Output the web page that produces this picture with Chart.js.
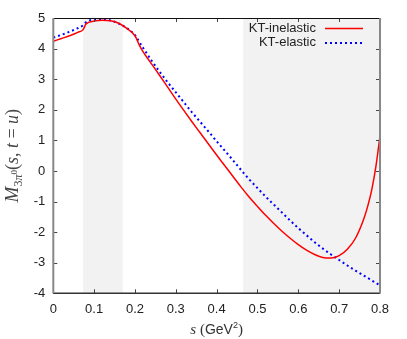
<!DOCTYPE html>
<html>
<head>
<meta charset="utf-8">
<script src="https://cdn.jsdelivr.net/npm/chart.js@4"></script>
<style>
  body { margin: 0; background: #fff; }
  #chart { display: block; }
</style>
</head>
<body>
<canvas id="chart" width="407" height="339"></canvas>
<script>
// s values (GeV^2) and the two amplitude curves
const sVals = [0, 0.02, 0.04, 0.06, 0.073, 0.08, 0.10, 0.12, 0.14, 0.16, 0.18, 0.20, 0.21, 0.22, 0.24, 0.26, 0.28, 0.30, 0.32, 0.34,
  0.36, 0.38, 0.40, 0.42, 0.44, 0.46, 0.48, 0.50, 0.52, 0.54, 0.56, 0.58, 0.60, 0.62, 0.64, 0.66, 0.68, 0.70, 0.72, 0.74,
  0.76, 0.77, 0.78, 0.79, 0.80];
const inelastic = [4.24, 4.33, 4.42, 4.53, 4.62, 4.80, 4.90, 4.93, 4.91, 4.83, 4.66, 4.42, 4.13, 3.89, 3.51, 3.13, 2.74, 2.35, 1.97, 1.60,
  1.24, 0.88, 0.52, 0.17, -0.18, -0.53, -0.86, -1.16, -1.45, -1.72, -1.97, -2.20, -2.41, -2.59, -2.73, -2.83, -2.85, -2.77, -2.56, -2.20,
  -1.58, -1.15, -0.60, 0.15, 1.15];
const elastic = [4.36, 4.45, 4.55, 4.67, 4.76, 4.86, 4.95, 4.96, 4.92, 4.82, 4.67, 4.44, 4.23, 4.02, 3.62, 3.25, 2.90, 2.57, 2.24, 1.91,
  1.60, 1.29, 0.97, 0.66, 0.35, 0.03, -0.28, -0.56, -0.84, -1.10, -1.36, -1.62, -1.87, -2.10, -2.33, -2.54, -2.73, -2.91, -3.09, -3.26,
  -3.42, -3.50, -3.58, -3.66, -3.74];
const seriesNames = ["KT-inelastic", "KT-elastic"];
const shadedBands = [[0.073, 0.17], [0.465, 0.8]];
const xTickLabels = ["0", "0.1", "0.2", "0.3", "0.4", "0.5", "0.6", "0.7", "0.8"];
const yTickLabels = ["-4", "-3", "-2", "-1", "0", "1", "2", "3", "4", "5"];

const SANS = "'Liberation Sans', Arial, sans-serif";
const SERIF = "'Liberation Serif', 'DejaVu Serif', serif";

function toPoints(ys) {
  return sVals.map((s, i) => ({ x: s, y: ys[i] }));
}

// shaded bands, frame, inward ticks, legend and axis titles
const decorations = {
  id: "decorations",
  beforeDatasetsDraw(chart) {
    const { ctx, chartArea: a, scales: { x } } = chart;
    ctx.save();
    ctx.fillStyle = "#f2f2f2";
    shadedBands.forEach(([lo, hi]) => {
      const x0 = x.getPixelForValue(lo);
      const x1 = x.getPixelForValue(hi);
      ctx.fillRect(x0, a.top, x1 - x0, a.bottom - a.top);
    });
    ctx.restore();
  },
  afterDraw(chart) {
    const { ctx, chartArea: a, scales: { x, y } } = chart;
    ctx.save();

    // inward tick marks
    ctx.strokeStyle = "#444";
    ctx.lineWidth = 1;
    x.ticks.forEach(t => {
      const px = Math.round(x.getPixelForValue(t.value)) + 0.5;
      ctx.beginPath();
      ctx.moveTo(px, a.bottom); ctx.lineTo(px, a.bottom - 4);
      ctx.moveTo(px, a.top); ctx.lineTo(px, a.top + 4);
      ctx.stroke();
    });
    y.ticks.forEach(t => {
      const py = Math.round(y.getPixelForValue(t.value)) + 0.5;
      ctx.beginPath();
      ctx.moveTo(a.left, py); ctx.lineTo(a.left + 4, py);
      ctx.moveTo(a.right, py); ctx.lineTo(a.right - 4, py);
      ctx.stroke();
    });

    // frame
    ctx.strokeStyle = "#111";
    ctx.lineWidth = 1;
    ctx.beginPath();
    ctx.moveTo(a.left, a.top + 0.5); ctx.lineTo(a.right, a.top + 0.5);
    ctx.stroke();
    ctx.strokeStyle = "#333";
    ctx.lineWidth = 1.5;
    ctx.beginPath();
    ctx.moveTo(a.left, a.bottom); ctx.lineTo(a.right, a.bottom);
    ctx.stroke();
    ctx.strokeStyle = "#888";
    ctx.lineWidth = 2;
    ctx.beginPath();
    ctx.moveTo(a.left, a.top); ctx.lineTo(a.left, a.bottom);
    ctx.moveTo(a.right, a.top); ctx.lineTo(a.right, a.bottom);
    ctx.stroke();

    // legend
    const ds = chart.data.datasets;
    ctx.font = "13px " + SANS;
    ctx.textAlign = "right";
    ctx.textBaseline = "middle";
    ds.forEach((d, i) => {
      const ly = 28 + i * 14.5;
      ctx.fillStyle = "#222";
      ctx.fillText(d.label, 316, ly);
      ctx.strokeStyle = d.borderColor;
      ctx.lineWidth = d.borderWidth;
      ctx.setLineDash(d.borderDash || []);
      ctx.beginPath();
      ctx.moveTo(325, ly + 0.5); ctx.lineTo(363, ly + 0.5);
      ctx.stroke();
    });
    ctx.setLineDash([]);

    // x title: s (GeV^2)
    ctx.fillStyle = "#333";
    ctx.textAlign = "left";
    ctx.textBaseline = "alphabetic";
    const parts = [
      ["italic 15px " + SERIF, "s", 0],
      ["15px " + SERIF, " (", 0],
      ["14px " + SANS, "GeV", 0],
      ["9px " + SANS, "2", -6],
      ["15px " + SERIF, ")", 0]
    ];
    let w = 0;
    parts.forEach(p => { ctx.font = p[0]; w += ctx.measureText(p[1]).width; });
    let cx = (a.left + a.right) / 2 - w / 2;
    parts.forEach(p => {
      ctx.font = p[0];
      ctx.fillText(p[1], cx, 334 + p[2]);
      cx += ctx.measureText(p[1]).width;
    });

    // y title: M_{3pi^0}(s, t = u)
    const yparts = [
      ["italic 19px " + SERIF, "M", 0],
      ["12px " + SERIF, "3", 4],
      ["italic 12px " + SERIF, "π", 4],
      ["9px " + SERIF, "0", -1],
      ["18px " + SERIF, "(", 0],
      ["italic 18px " + SERIF, "s", 0],
      ["18px " + SERIF, ", ", 0],
      ["italic 18px " + SERIF, "t", 0],
      ["18px " + SERIF, " = ", 0],
      ["italic 18px " + SERIF, "u", 0],
      ["18px " + SERIF, ")", 0]
    ];
    w = 0;
    yparts.forEach(p => { ctx.font = p[0]; w += ctx.measureText(p[1]).width; });
    ctx.fillStyle = "#444";
    ctx.translate(18, (a.top + a.bottom) / 2);
    ctx.rotate(-Math.PI / 2);
    cx = -w / 2;
    yparts.forEach(p => {
      ctx.font = p[0];
      ctx.fillText(p[1], cx, p[2]);
      cx += ctx.measureText(p[1]).width;
    });
    ctx.restore();
  }
};

new Chart(document.getElementById("chart"), {
  type: "line",
  data: {
    datasets: [
      {
        label: seriesNames[0],
        data: toPoints(inelastic),
        borderColor: "#ff0000",
        borderWidth: 1.5,
        pointRadius: 0,
        cubicInterpolationMode: "monotone"
      },
      {
        label: seriesNames[1],
        data: toPoints(elastic),
        borderColor: "#0000ff",
        borderWidth: 2,
        borderDash: [2, 3],
        pointRadius: 0,
        cubicInterpolationMode: "monotone"
      }
    ]
  },
  options: {
    responsive: false,
    animation: false,
    layout: { padding: { top: 18, right: 27, left: 0, bottom: 0 } },
    plugins: { legend: { display: false }, tooltip: { enabled: false } },
    scales: {
      x: {
        type: "linear",
        min: 0,
        max: 0.8,
        grid: { display: false, drawTicks: false },
        border: { display: false },
        ticks: {
          stepSize: 0.1,
          padding: 8,
          color: "#222",
          font: { family: SANS, size: 13 },
          callback: (v, i) => xTickLabels[i]
        },
        afterFit: s => { s.height = 45.7; }
      },
      y: {
        min: -4,
        max: 5,
        grid: { display: false, drawTicks: false },
        border: { display: false },
        ticks: {
          stepSize: 1,
          padding: 8,
          color: "#222",
          font: { family: SANS, size: 13 },
          callback: (v, i) => yTickLabels[i]
        },
        afterFit: s => { s.width = 53.3; }
      }
    }
  },
  plugins: [decorations]
});
</script>
</body>
</html>
